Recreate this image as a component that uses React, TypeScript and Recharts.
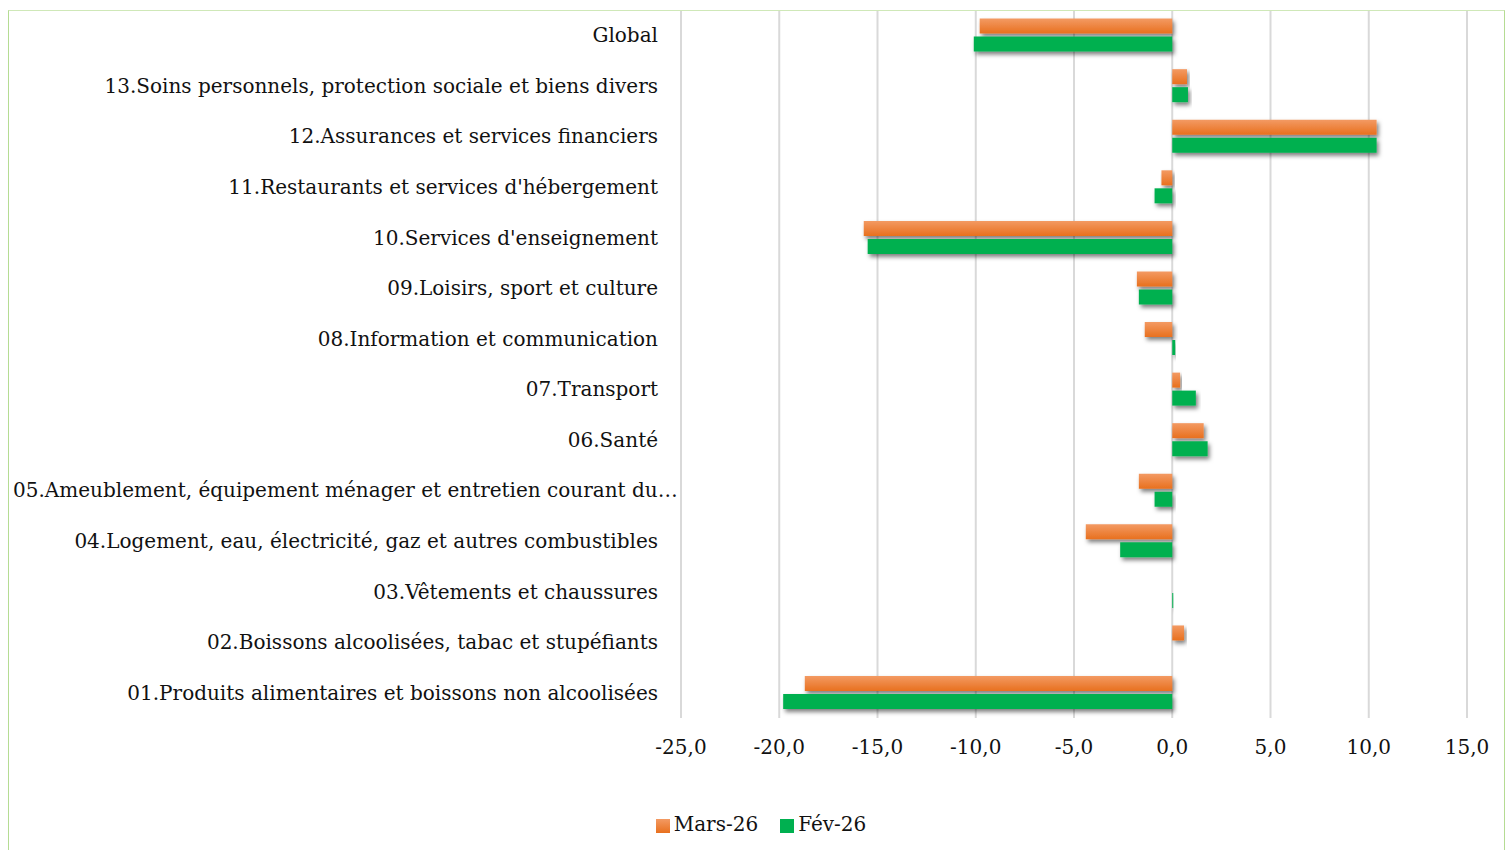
import { Bar, BarChart, CartesianGrid, Legend, XAxis, YAxis } from "recharts";

// Category labels, top to bottom as drawn
const categories = [
  "Global",
  "13.Soins personnels, protection sociale et biens divers",
  "12.Assurances et services financiers",
  "11.Restaurants et services d'hébergement",
  "10.Services d'enseignement",
  "09.Loisirs, sport et culture",
  "08.Information et communication",
  "07.Transport",
  "06.Santé",
  "05.Ameublement, équipement ménager et entretien courant du…",
  "04.Logement, eau, électricité, gaz et autres combustibles",
  "03.Vêtements et chaussures",
  "02.Boissons alcoolisées, tabac et stupéfiants",
  "01.Produits alimentaires et boissons non alcoolisées",
];

const mars26 = [-9.8, 0.75, 10.4, -0.55, -15.7, -1.8, -1.4, 0.4, 1.6, -1.7, -4.4, 0.0, 0.6, -18.7];
const fev26 = [-10.1, 0.8, 10.4, -0.9, -15.5, -1.7, 0.15, 1.2, 1.8, -0.9, -2.65, 0.05, 0.0, -19.8];

const xTicks = [-25, -20, -15, -10, -5, 0, 5, 10, 15];

const data = categories.map((name, i) => ({ name, mars: mars26[i], fev: fev26[i] }));

const FONT = "'DejaVu Serif', serif";
const FONT_SIZE = 20;
const GREEN = "#00B050";

const fmt = (v: number) => v.toFixed(1).replace(".", ",");

function YTick({ x, y, payload }: any) {
  const label: string = payload.value;
  // Excel lets the clipped label run left-aligned from the frame edge
  const truncated = label.endsWith("…");
  return (
    <text
      x={truncated ? 4 : x - 21}
      y={y}
      dy={7}
      textAnchor={truncated ? "start" : "end"}
      fill="#111"
      fontSize={FONT_SIZE}
      fontFamily={FONT}
    >
      {label}
    </text>
  );
}

export default function App() {
  return (
    <div
      style={{
        position: "absolute",
        left: 8,
        top: 10,
        width: 1495,
        height: 850,
        borderLeft: "1px solid #b5dc93",
        borderTop: "1px solid #cfe8b8",
        borderRight: "1px solid #b5dc93",
        background: "#fff",
      }}
    >
      <BarChart
        width={1495}
        height={850}
        data={data}
        layout="vertical"
        margin={{ top: -1, right: 37, bottom: 19, left: 0 }}
        barCategoryGap="17%"
        barGap={3}
      >
        <defs>
          <linearGradient id="orangeGrad" x1="0" y1="0" x2="0" y2="1">
            <stop offset="0%" stopColor="#F39A63" />
            <stop offset="100%" stopColor="#E8701E" />
          </linearGradient>
          <filter id="barShadow" x="-10%" y="-40%" width="130%" height="200%">
            <feDropShadow dx="2" dy="3" stdDeviation="2.2" floodColor="#000" floodOpacity="0.5" />
          </filter>
        </defs>
        <CartesianGrid horizontal={false} stroke="#d9d9d9" strokeWidth={2} />
        <XAxis
          type="number"
          domain={[-25, 15]}
          ticks={xTicks}
          tickFormatter={fmt}
          axisLine={false}
          tickLine={false}
          tickSize={0}
          tickMargin={22}
          height={94}
          tick={{ fill: "#111", fontSize: FONT_SIZE, fontFamily: FONT }}
        />
        <YAxis
          type="category"
          dataKey="name"
          width={672}
          axisLine={false}
          tickLine={false}
          tickSize={0}
          interval={0}
          tick={<YTick />}
        />
        <Legend
          verticalAlign="bottom"
          align="center"
          iconType="square"
          iconSize={14}
          height={30}
          itemSorter={(item: any) => (item.dataKey === "mars" ? 0 : 1)}
          wrapperStyle={{ fontFamily: FONT, fontSize: FONT_SIZE, color: "#111", paddingLeft: 34 }}
          formatter={(value) => <span style={{ color: "#111", marginRight: 12 }}>{value}</span>}
        />
        <Bar
          dataKey="mars"
          name="Mars-26"
          fill="url(#orangeGrad)"
          filter="url(#barShadow)"
          legendType="square"
          isAnimationActive={false}
        />
        <Bar
          dataKey="fev"
          name="Fév-26"
          fill={GREEN}
          filter="url(#barShadow)"
          isAnimationActive={false}
        />
      </BarChart>
    </div>
  );
}
